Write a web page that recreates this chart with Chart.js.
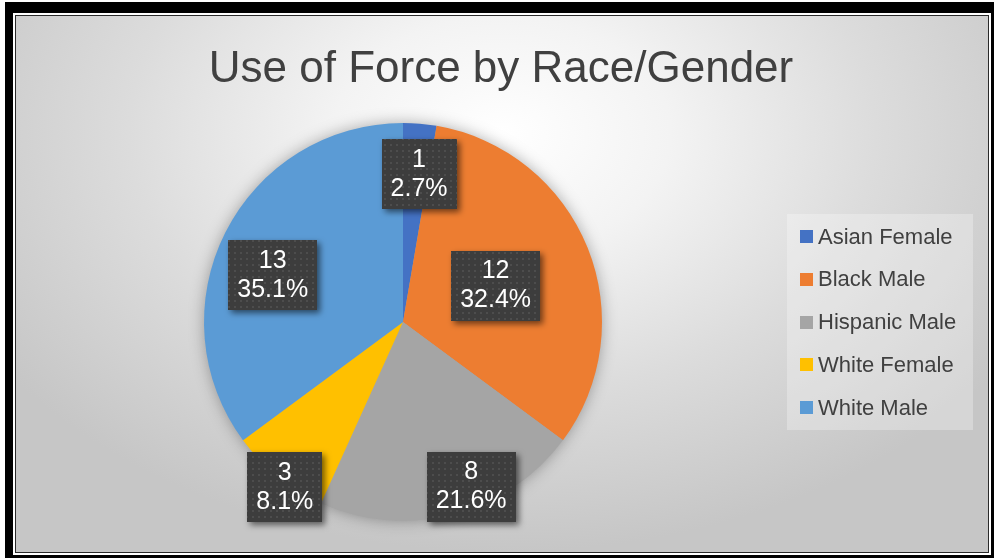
<!DOCTYPE html>
<html>
<head>
<meta charset="utf-8">
<title>Use of Force by Race/Gender</title>
<script src="https://cdn.jsdelivr.net/npm/chart.js@4.4.0/dist/chart.umd.min.js"></script>
<style>
  html, body { margin: 0; padding: 0; background: #fff; width: 994px; height: 558px; overflow: hidden; }
  .frame {
    position: absolute; left: 5px; top: 2px;
    width: 978px; height: 542px;
    border: solid #000; border-width: 11px 8px 8px 8px;
    background: #fff;
  }
  .inner {
    position: absolute; left: 2px; top: 2px;
    width: 972px; height: 536px;
    border: 1px solid #2a2a2a;
    background: radial-gradient(ellipse 62% 78% at 50% 22%, #ffffff 0%, #f3f3f3 28%, #dcdcdc 62%, #c6c6c6 100%);
  }
  canvas { display: block; }
</style>
</head>
<body>
<div class="frame">
  <div class="inner">
    <canvas id="chart" width="972" height="536"></canvas>
  </div>
</div>
<script>
const chartTitle = "Use of Force by Race/Gender";
const categories = ["Asian Female", "Black Male", "Hispanic Male", "White Female", "White Male"];
const counts = [1, 12, 8, 3, 13];
const colors = ["#4472C4", "#ED7D31", "#A5A5A5", "#FFC000", "#5B9BD5"];

// where each data label sits: fraction of the radius, and a small turn (degrees) off the slice middle
const labelRadius = [0.75, 0.5, 0.895, 1.02, 0.695];
const labelTurn = [1.3, 0.4, -7.9, -3.3, -7.1];

const total = counts.reduce((a, b) => a + b, 0);

// dark dotted fill used by the data label boxes
const tile = document.createElement("canvas");
tile.width = 6;
tile.height = 6;
const tctx = tile.getContext("2d");
tctx.fillStyle = "#3d3d3d";
tctx.fillRect(0, 0, 6, 6);
tctx.fillStyle = "#4d4d4d";
tctx.fillRect(2, 2, 2, 2);

// title drawn across the whole canvas (the layout padding would squeeze the built-in one)
const wideTitle = {
  id: "wideTitle",
  afterDraw(chart) {
    const ctx = chart.ctx;
    ctx.save();
    ctx.font = "44px 'Liberation Sans', Arial, sans-serif";
    ctx.fillStyle = "#404040";
    ctx.textAlign = "center";
    ctx.textBaseline = "alphabetic";
    ctx.fillText(chartTitle, chart.width / 2 - 1, 66);
    ctx.restore();
  },
};

const pieShadow = {
  id: "pieShadow",
  beforeDatasetsDraw(chart) {
    const arc = chart.getDatasetMeta(0).data[0];
    if (!arc) return;
    const { x, y, outerRadius } = arc.getProps(["x", "y", "outerRadius"], true);
    const ctx = chart.ctx;
    ctx.save();
    ctx.shadowColor = "rgba(0,0,0,0.35)";
    ctx.shadowBlur = 16;
    ctx.beginPath();
    ctx.arc(x, y, outerRadius - 1, 0, Math.PI * 2);
    ctx.fillStyle = "#a5a5a5";
    ctx.fill();
    ctx.restore();
  },
};

const dataLabels = {
  id: "dataLabels",
  afterDatasetsDraw(chart) {
    const ctx = chart.ctx;
    const meta = chart.getDatasetMeta(0);
    ctx.save();
    ctx.font = "25px 'Liberation Sans', Arial, sans-serif";
    meta.data.forEach((arc, i) => {
      const p = arc.getProps(["x", "y", "startAngle", "endAngle", "outerRadius"], true);
      const mid = (p.startAngle + p.endAngle) / 2 + (labelTurn[i] * Math.PI) / 180;
      const cx = p.x + Math.cos(mid) * p.outerRadius * labelRadius[i];
      const cy = p.y + Math.sin(mid) * p.outerRadius * labelRadius[i];
      const line1 = String(counts[i]);
      const line2 = ((counts[i] / total) * 100).toFixed(1) + "%";
      const w = Math.max(ctx.measureText(line1).width, ctx.measureText(line2).width) + 18;
      const h = 70;
      ctx.save();
      ctx.shadowColor = "rgba(0,0,0,0.55)";
      ctx.shadowBlur = 6;
      ctx.shadowOffsetX = 3;
      ctx.shadowOffsetY = 3;
      ctx.fillStyle = ctx.createPattern(tile, "repeat");
      ctx.fillRect(Math.round(cx - w / 2), Math.round(cy - h / 2), Math.round(w), h);
      ctx.restore();
      ctx.fillStyle = "#ffffff";
      ctx.textAlign = "center";
      ctx.textBaseline = "middle";
      ctx.fillText(line1, cx, cy - 14);
      ctx.fillText(line2, cx, cy + 15);
    });
    ctx.restore();
  },
};

const sideLegend = {
  id: "sideLegend",
  afterDraw(chart) {
    const ctx = chart.ctx;
    const area = chart.chartArea;
    const boxW = 186;
    const boxH = 216;
    const left = chart.width - 15 - boxW;
    const top = Math.round((area.top + area.bottom) / 2 - boxH / 2);
    const ds = chart.data.datasets[0];
    ctx.save();
    ctx.fillStyle = "rgba(255,255,255,0.28)";
    ctx.fillRect(left, top, boxW, boxH);
    ctx.font = "22px 'Liberation Sans', Arial, sans-serif";
    ctx.textBaseline = "middle";
    ctx.textAlign = "left";
    chart.data.labels.forEach((label, i) => {
      const rowY = top + 22.5 + i * 42.75;
      ctx.fillStyle = ds.backgroundColor[i];
      ctx.fillRect(left + 13, Math.round(rowY - 6.5), 13, 13);
      ctx.fillStyle = "#404040";
      ctx.fillText(label, left + 31, rowY + 1);
    });
    ctx.restore();
  },
};

new Chart(document.getElementById("chart"), {
  type: "pie",
  data: {
    labels: categories,
    datasets: [
      {
        data: counts,
        backgroundColor: colors,
        borderWidth: 0,
      },
    ],
  },
  options: {
    responsive: false,
    animation: false,
    layout: {
      padding: { left: 188, right: 386, top: 107, bottom: 31 },
    },
    plugins: {
      legend: { display: false },
      tooltip: { enabled: false },
      title: { display: false },
    },
  },
  plugins: [pieShadow, dataLabels, sideLegend, wideTitle],
});
</script>
</body>
</html>
